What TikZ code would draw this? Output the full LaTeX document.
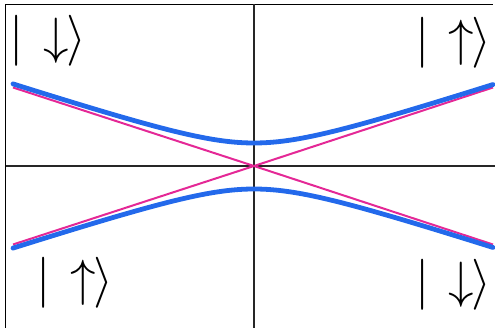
\documentclass[tikz,border=0pt]{standalone}
\begin{document}
\begin{tikzpicture}[x=1pt,y=-1pt,
  axis/.style={black!85,line width=1.1pt},
  frameline/.style={black,line width=1.6pt},
  branch/.style={draw=curveblue,line width=4.8pt,line cap=round},
  asym/.style={draw=asympink,line width=2pt},
  ket/.style={inner sep=0pt,scale=5.1,anchor=west}]
\definecolor{curveblue}{RGB}{35,105,235}
\definecolor{asympink}{RGB}{228,40,150}
\useasboundingbox (0,0) rectangle (495,328);
\coordinate (O) at (254,166);
\coordinate (tl) at (5.5,4.5);
\coordinate (tr) at (493,4.5);
\coordinate (bl) at (5.5,328);
\coordinate (axT) at (254,4.5);
\coordinate (axB) at (254,328);
\coordinate (axL) at (5.5,166);
\coordinate (axR) at (495,166);
\coordinate (p1) at (13,87.5);
\coordinate (p2) at (493,244.5);
\coordinate (p3) at (13,244.5);
\coordinate (p4) at (493,87.5);
% frame and axes
\draw[frameline] (bl) -- (tl) -- (tr);
\draw[axis] (axT) -- (axB);
\draw[axis] (axL) -- (axR);
% asymptotes
\draw[asym] (p1) -- (O) -- (p2);
\draw[asym] (p3) -- (O) -- (p4);
% avoided crossing branches
\draw[branch] plot[domain=-241:239,samples=120,smooth] ({254+\x},{166-sqrt(529+(0.327*\x)^2)});
\draw[branch] plot[domain=-241:239,samples=120,smooth] ({254+\x},{166+sqrt(529+(0.327*\x)^2)});
% labels
\node[ket] (k1) at (8.5,41) {$|\mkern7mu{\downarrow}\mkern-1mu\rangle$};
\node[ket] (k2) at (414,42.5) {$|\mkern7mu{\uparrow}\mkern-1mu\rangle$};
\node[ket] (k3) at (35.5,283) {$|\mkern7mu{\uparrow}\mkern-1mu\rangle$};
\node[ket] (k4) at (414,284.5) {$|\mkern7mu{\downarrow}\mkern-1mu\rangle$};
\end{tikzpicture}
\end{document}
